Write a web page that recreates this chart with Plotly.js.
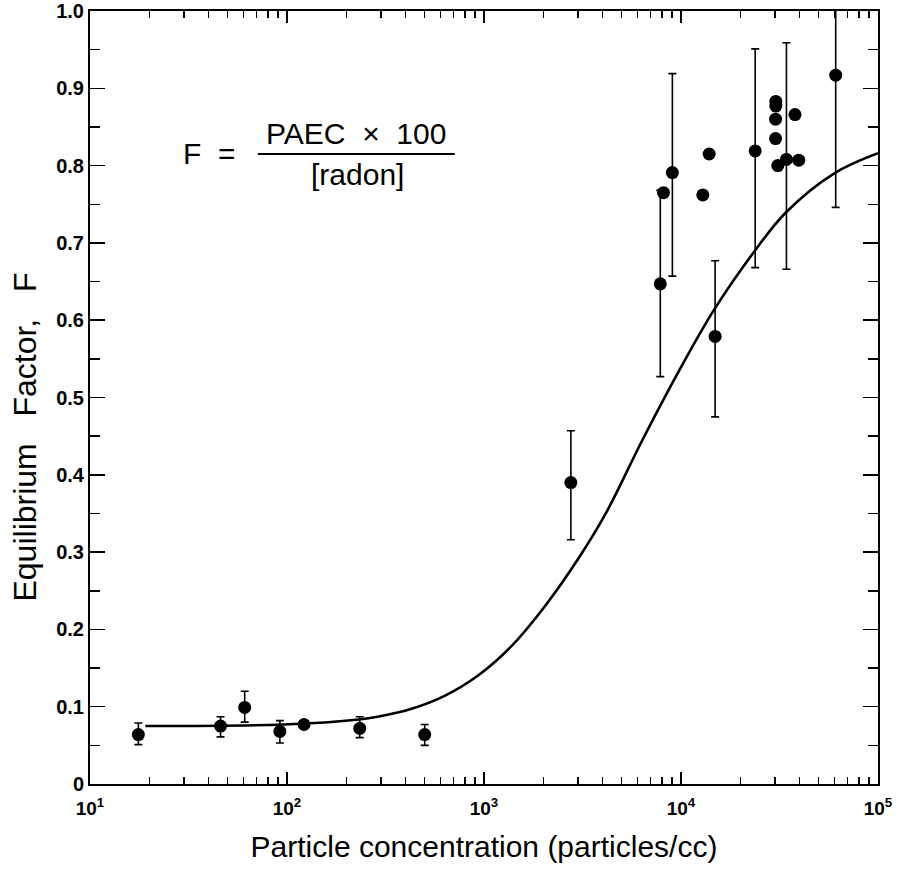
<!DOCTYPE html>
<html>
<head>
<meta charset="utf-8">
<script src="https://cdn.plot.ly/plotly-3.0.1.min.js"></script>
<style>html,body{margin:0;padding:0;background:#fff;}#chart{width:898px;height:879px;}</style>
</head>
<body>
<div id="chart"></div>
<script>
// Measured points (particle concentration, equilibrium factor)
const particleConc = [17.6, 46, 61, 92, 122, 234, 500, 2760, 7850, 8150, 9040, 12900, 13900, 14900, 23800, 31000, 30200, 30200, 30300, 30300, 34300, 37900, 39600, 61000];
const eqFactor     = [0.064, 0.075, 0.099, 0.068, 0.077, 0.072, 0.064, 0.390, 0.647, 0.765, 0.791, 0.762, 0.815, 0.579, 0.819, 0.800, 0.835, 0.860, 0.877, 0.883, 0.808, 0.866, 0.807, 0.917];
const errPlus      = [0.015, 0.012, 0.021, 0.014, 0, 0.015, 0.013, 0.067, 0.121, 0, 0.128, 0, 0, 0.098, 0.132, 0, 0, 0, 0, 0, 0.151, 0, 0, 0.170];
const errMinus     = [0.013, 0.014, 0.019, 0.015, 0, 0.012, 0.014, 0.074, 0.120, 0, 0.134, 0, 0, 0.104, 0.151, 0, 0, 0, 0, 0, 0.142, 0, 0, 0.171];

// Fitted curve
const curveX = [19.1, 96, 232, 288, 425, 631, 929, 1374, 2037, 3020, 4130, 6370, 9460, 14600, 22960, 33960, 60000, 100000];
const curveY = [0.075, 0.077, 0.0835, 0.087, 0.097, 0.114, 0.140, 0.178, 0.230, 0.292, 0.349, 0.445, 0.528, 0.612, 0.685, 0.739, 0.790, 0.816];

// Axis ticks
const xTickVals = [10, 100, 1000, 10000, 100000];
const xTickText = ['10<sup>1</sup>', '10<sup>2</sup>', '10<sup>3</sup>', '10<sup>4</sup>', '10<sup>5</sup>'];
const yTickVals = [0, 0.1, 0.2, 0.3, 0.4, 0.5, 0.6, 0.7, 0.8, 0.9, 1.0];
const yTickText = ['0', '0.1', '0.2', '0.3', '0.4', '0.5', '0.6', '0.7', '0.8', '0.9', '1.0'];

const xMinor = [];
for (let e = 1; e < 5; e++) for (let d = 2; d <= 9; d++) xMinor.push(d * Math.pow(10, e));
const yMinor = [];
for (let i = 0; i < 10; i++) yMinor.push(+(i * 0.1 + 0.05).toFixed(2));

const FONT = 'Liberation Sans, Arial, Helvetica, sans-serif';

const traces = [
  {
    x: curveX, y: curveY, type: 'scatter', mode: 'lines',
    line: {color: '#000', width: 2.6, shape: 'spline', smoothing: 1},
    hoverinfo: 'skip', showlegend: false
  },
  {
    x: particleConc, y: eqFactor, type: 'scatter', mode: 'markers',
    marker: {color: '#000', size: 13},
    error_y: {type: 'data', symmetric: false, array: errPlus, arrayminus: errMinus,
              color: '#000', thickness: 1.6, width: 4},
    showlegend: false
  },
  { x: [], y: [], type: 'scatter', xaxis: 'x2', yaxis: 'y', showlegend: false, hoverinfo: 'skip' }
];

const axisCommon = {
  showline: true, linecolor: '#000', linewidth: 2, mirror: 'ticks',
  ticks: 'inside', tickcolor: '#000', tickwidth: 1.5,
  showgrid: false, zeroline: false
};

const layout = {
  width: 898, height: 879,
  margin: {l: 90, r: 20, t: 11, b: 95},
  paper_bgcolor: '#fff', plot_bgcolor: '#fff',
  showlegend: false,
  xaxis: Object.assign({}, axisCommon, {
    type: 'log', range: [1, 5],
    tickmode: 'array', tickvals: xTickVals, ticktext: xTickText, ticklen: 12,
    ticklabelstandoff: 6,
    tickfont: {family: FONT, size: 19, color: '#000', weight: 'bold'},
    title: {text: 'Particle concentration (particles/cc)', font: {family: FONT, size: 30, color: '#000'}, standoff: 18}
  }),
  xaxis2: {
    type: 'log', range: [1, 5], overlaying: 'x', anchor: 'y', side: 'bottom',
    tickmode: 'array', tickvals: xMinor, ticks: 'inside', ticklen: 7, tickwidth: 1.5, tickcolor: '#000',
    mirror: 'ticks', showline: true, linecolor: '#000', linewidth: 2,
    showticklabels: false, showgrid: false, zeroline: false
  },
  yaxis: Object.assign({}, axisCommon, {
    range: [0, 1],
    tickmode: 'array', tickvals: yTickVals, ticktext: yTickText, ticklen: 15,
    tickfont: {family: FONT, size: 20, color: '#000', weight: 'bold'},
    minor: {tickmode: 'array', tickvals: yMinor, ticks: 'inside', ticklen: 10, tickwidth: 1.5, tickcolor: '#000', showgrid: false}
  }),
  annotations: [
    {xref: 'paper', yref: 'paper', x: -0.083, y: 0.449, text: 'Equilibrium&nbsp;&nbsp;&nbsp;Factor,&nbsp;&nbsp;&nbsp;F',
     textangle: -90, showarrow: false, font: {family: FONT, size: 32, color: '#000'}, xanchor: 'center', yanchor: 'middle'},
    {xref: 'paper', yref: 'paper', x: 0.152, y: 0.816, text: 'F&nbsp; =', showarrow: false,
     font: {family: FONT, size: 30, color: '#000'}, xanchor: 'center', yanchor: 'middle'},
    {xref: 'paper', yref: 'paper', x: 0.338, y: 0.841, text: 'PAEC&nbsp; ×&nbsp; 100', showarrow: false,
     font: {family: FONT, size: 30, color: '#000'}, xanchor: 'center', yanchor: 'middle'},
    {xref: 'paper', yref: 'paper', x: 0.339, y: 0.789, text: '[radon]', showarrow: false,
     font: {family: FONT, size: 30, color: '#000'}, xanchor: 'center', yanchor: 'middle'}
  ],
  shapes: [
    {type: 'line', xref: 'paper', yref: 'paper', x0: 0.213, x1: 0.463, y0: 0.815, y1: 0.815,
     line: {color: '#000', width: 2}}
  ]
};

Plotly.newPlot('chart', traces, layout, {displayModeBar: false, staticPlot: true});
</script>
</body>
</html>
